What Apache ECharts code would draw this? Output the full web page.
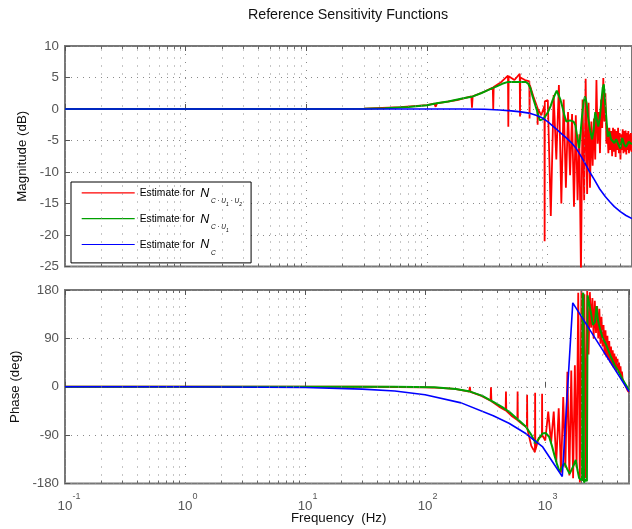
<!DOCTYPE html>
<html><head><meta charset="utf-8">
<script src="https://cdn.jsdelivr.net/npm/echarts@6/dist/echarts.min.js"></script>
<style>html,body{margin:0;padding:0;background:#fff}#c{width:632px;height:529px}</style>
</head><body><div id="c"></div>
<script>
// ---- data ----
const freqRed = [0.1, 1, 10, 30, 60, 100,
  115, 118, 121, 177, 233, 236, 239, 295, 351, 354, 357, 413,
  469, 472, 475, 531, 587, 590, 593, 649, 705, 708, 711, 767,
  823, 826, 829, 885, 941, 944, 947, 1003,
  1062, 1121, 1180, 1239, 1298, 1357, 1416, 1475, 1534, 1593,
  1652, 1711, 1770, 1829, 1888, 1947, 2006, 2065, 2124, 2183,
  2242, 2301, 2360, 2419, 2478, 2537, 2596, 2655, 2714, 2773,
  2832, 2891, 2950, 3009, 3068, 3127, 3186, 3245, 3304, 3363,
  3422, 3481, 3540, 3599, 3658, 3717, 3776, 3835, 3894, 3953,
  4012, 4071, 4130, 4189, 4248, 4307, 4366, 4425, 4484, 4543,
  4602, 4661, 4720, 4779, 4838, 4897, 4956, 5000];
const magRed = [0, 0, 0, 0.05, 0.3, 0.6,
  0.85, 0.35, 0.9, 1.4, 2.0, 0.2, 2.0, 2.7, 3.4, 0.0, 3.5, 4.3,
  5.3, -2.8, 5.2, 4.6, 5.6, -1.2, 5.0, 4.6, 4.4, -1.5, 3.8, 1.8,
  0.2, -2.5, 0.0, -1.0, 0.5, -21.0, 1.2, 1.4,
  -17.0, 2.2, -8.0, 3.8, -15.0, 1.5, -12.5, -0.5, -10.5, -0.8,
  -15.5, -1.0, -14.5, -4.0, -26.0, 1.5, -14.5, 4.8, -13.5, 1.0,
  -12.5, -2.0, -9.0, -1.5, -8.0, 4.6, -5.5, -0.5, -7.0, 1.5,
  -3.0, 4.9, -2.0, 2.5, -5.5, -3.0, -7.0, -3.0, -6.5, -3.5,
  -7.5, -3.0, -6.8, -3.2, -7.6, -3.5, -6.5, -3.0, -7.0, -3.8,
  -8.0, -4.0, -6.5, -3.2, -7.0, -3.5, -6.8, -3.4, -7.2, -3.8,
  -6.5, -3.5, -7.0, -4.0, -6.6, -3.8, -6.8, -5.0];
const phaseRed = [0, 0, 0, 0, -0.5, -1,
  -1.5, 1, -1.5, -4, -9, 0, -9.5, -17, -26, -1, -27, -37,
  -44, -9, -45, -55, -62, -9, -63, -70, -76, -15, -78, -110,
  -122, -11, -118, -95, -92, -13, -90, -100,
  -46, -105, -46, -140, -40, -160, -19, -150, 28, -165,
  30, -170, 40, -150, 175, -178, 178, -175, 172, -170,
  178, 60, 176, 110, 165, 90, 160, 100, 150, 90,
  145, 80, 130, 75, 115, 60, 105, 55, 95, 50,
  85, 45, 75, 40, 68, 36, 62, 32, 56, 28,
  52, 26, 45, 22, 38, 18, 28, 14, 16, 8,
  10, 2, 4, -3, -2, -8, -6, -10];

const freqGreenMag = [0.1, 10, 30, 45, 70, 100, 120, 150, 200, 240,
  280, 320, 370, 420, 470, 530, 600, 660, 690, 720,
  750, 790, 820, 860, 880, 920, 960, 1000, 1060, 1100,
  1150, 1190, 1230, 1280, 1330, 1380, 1430, 1480, 1530, 1580,
  1640, 1700, 1760, 1820, 1870, 1930, 1990, 2040, 2100, 2170,
  2250, 2330, 2400, 2480, 2550, 2630, 2700, 2780, 2860, 2920,
  2980, 3080, 3150, 3250, 3350, 3450, 3570, 3700, 3850, 4000,
  4150, 4300, 4460, 4700, 5000];
const magGreen = [0, 0, 0.05, 0.1, 0.3, 0.6, 0.9, 1.2, 1.7, 2.0,
  2.5, 3.0, 3.5, 4.0, 4.3, 4.3, 4.3, 4.3, 4.0, 3.3,
  2.0, 0.6, -0.4, -1.8, -2.0, -1.6, -1.1, -0.6, 0.5, 1.4,
  2.3, 2.9, 2.6, 1.4, 0.2, -1.1, -2.0, -2.2, -1.8, -1.6,
  -2.0, -2.6, -4.5, -6.2, -4.0, -1.0, 1.2, 2.0, 1.0, -1.5,
  -3.4, -4.8, -3.5, -0.5, -0.6, -2.8, -1.5, 1.0, 3.4, 3.9,
  1.5, -2.0, -4.4, -3.6, -4.8, -4.6, -5.4, -4.8, -5.6, -6.3,
  -4.6, -5.6, -6.0, -5.2, -5.6];
const freqGreenPh = [0.1, 10, 30, 56, 119, 180, 238, 300, 370, 440,
  505, 600, 690, 760, 835, 880, 950, 1010, 1080, 1140,
  1205, 1260, 1320, 1380, 1450, 1520, 1600, 1660, 1740, 1800,
  1860, 1920, 1980, 2030, 2050, 2080, 2110, 2180, 2230, 2260,
  2300, 2400, 2500, 2600, 2680, 2750, 2850, 3000, 3200, 3500,
  3800, 4100, 4460, 5000];
const phaseGreen = [0, 0, 0, 0, -1, -4, -9, -17, -28, -38,
  -47, -62, -74, -88, -105, -98, -87, -86, -93, -110,
  -130, -145, -158, -150, -142, -152, -162, -161, -145, -136,
  -155, -170, -172, -175, 170, 175, -178, -172, -176, 170,
  172, 140, 115, 120, 150, 125, 110, 92, 80, 58,
  40, 28, 12, -6];

const freqBlueMag = [0.1, 100, 200, 300, 400, 500, 600, 700, 800, 900,
  1000, 1150, 1300, 1450, 1600, 1700, 1850, 2000, 2200, 2450,
  2700, 3000, 3300, 3570, 4000, 4460, 5000];
const magBlue = [0, 0, 0, -0.05, -0.15, -0.3, -0.45, -0.65, -1.0, -1.4,
  -2.0, -3.0, -3.9, -4.7, -5.5, -6.1, -7.2, -8.3, -9.8, -11.3,
  -12.7, -13.9, -14.8, -15.5, -16.3, -16.9, -17.4];
const freqBluePh = [0.1, 1, 10, 30, 56, 100, 200, 370, 500, 690, 955, 1390, 1700, 5000];
const phaseBlue = [0, -0.1, -1.5, -4.5, -8, -15, -30, -54, -68, -87, -112, -167, 156, -9];

const minorTicks = [0.2,0.3,0.4,0.5,0.6,0.7,0.8,0.9, 2,3,4,5,6,7,8,9,
  20,30,40,50,60,70,80,90, 200,300,400,500,600,700,800,900, 2000,3000,4000];
const magTicks = {min: -25, max: 10, step: 5};
const phaseTicks = {min: -180, max: 180, step: 90};

const nameRed = 'Estimate for N C·U1·U2';
const nameGreen = 'Estimate for N C·U1';
const nameBlue = 'Estimate for N C';
const legendRich = {};
legendRich[nameRed] = '{t|Estimate for  }{n|N}{s|C · U}{ss|1}{s| · U}{ss|2}';
legendRich[nameGreen] = '{t|Estimate for  }{n|N}{s|C · U}{ss|1}';
legendRich[nameBlue] = '{t|Estimate for  }{n|N}{s|C}';

// ---- chart ----
const FONT = "'Liberation Sans', Arial, Helvetica, sans-serif";
const GRID_C = '#8a8a8a';
const TOP_H = 220.5, BOT_H = 193.5;
function pairs(f, v) { return f.map((x, i) => [x, v[i]]); }
const chart = echarts.init(document.getElementById('c'), null, {renderer: 'canvas'});

function xAx(grid, pos, labels) {
  return {
    type: 'log', logBase: 10, min: 0.1, max: 5000, gridIndex: grid, position: pos,
    axisLine: {show: false},
    axisTick: {show: true, inside: true, length: 5, lineStyle: {color: '#555', width: 1}},
    splitLine: {show: pos === 'bottom', lineStyle: {color: GRID_C, width: 1, type: [1, 7]}},
    axisLabel: labels ? {
      show: true, margin: 8.5, showMinLabel: true,
      formatter: function (v) {
        const e = Math.log10(v), r = Math.round(e);
        if (Math.abs(e - r) > 1e-6) return '';
        const s = String(r);
        return '{h|' + s + '}{b|10}{e|' + s + '}';
      },
      rich: {
        h: {fontSize: 9, lineHeight: 9, verticalAlign: 'top', color: 'rgba(0,0,0,0)', fontFamily: FONT},
        b: {fontSize: 13.3, lineHeight: 14, padding: [8, 0, 0, 0], verticalAlign: 'top', color: '#555', fontFamily: FONT},
        e: {fontSize: 9, lineHeight: 9, verticalAlign: 'top', color: '#555', fontFamily: FONT}
      }
    } : {show: false}
  };
}
function yAx(grid, t, name, gap) {
  return {
    type: 'value', gridIndex: grid, min: t.min, max: t.max, interval: t.step,
    axisLine: {show: false},
    axisTick: {show: true, inside: true, length: 5, lineStyle: {color: '#555'}},
    axisLabel: {fontSize: 13.3, color: '#555', margin: 6, fontFamily: FONT},
    splitLine: {show: true, lineStyle: {color: GRID_C, width: 1, type: [1, 5]}},
    name: name, nameLocation: 'middle', nameGap: gap,
    nameTextStyle: {fontSize: 13.3, color: '#111', fontFamily: FONT}
  };
}
function lineSeries(name, xi, data, color, width, z) {
  return {type: 'line', name: name, xAxisIndex: xi, yAxisIndex: xi, data: data,
    symbol: 'none', showSymbol: false, clip: true, z: z,
    lineStyle: {color: color, width: width}, itemStyle: {color: color}};
}
// dotted minor grid lines + short minor ticks on the bottom and top borders
function gridSeries(xi, t, h) {
  const tickLen = 3 * (t.max - t.min) / h;
  const ticks = [];
  minorTicks.forEach(v => {
    ticks.push([{coord: [v, t.min]}, {coord: [v, t.min + tickLen]}]);
    ticks.push([{coord: [v, t.max]}, {coord: [v, t.max - tickLen]}]);
  });
  return [{type: 'line', name: 'grid' + xi, xAxisIndex: xi, yAxisIndex: xi, data: [[1, 0]],
    symbol: 'none', lineStyle: {opacity: 0}, silent: true, z: 1,
    markLine: {silent: true, symbol: ['none', 'none'], label: {show: false}, animation: false,
      lineStyle: {color: GRID_C, width: 1, type: [1, 7]},
      data: minorTicks.map(v => ({xAxis: v}))}},
   {type: 'line', name: 'ticks' + xi, xAxisIndex: xi, yAxisIndex: xi, data: [[1, 0]],
    symbol: 'none', lineStyle: {opacity: 0}, silent: true, z: 5,
    markLine: {silent: true, symbol: ['none', 'none'], label: {show: false}, animation: false,
      lineStyle: {color: '#666', width: 1, type: 'solid'}, data: ticks}}];
}

const option = {
  animation: false,
  backgroundColor: '#fff',
  textStyle: {fontFamily: FONT},
  title: {text: 'Reference Sensitivity Functions', left: 343, top: 3, textAlign: 'center',
    textStyle: {fontSize: 14.3, fontWeight: 'normal', color: '#111', fontFamily: FONT}},
  grid: [
    {left: 65, right: -6, top: 46, height: TOP_H, show: true, borderColor: '#777', borderWidth: 2, backgroundColor: '#fff'},
    {left: 65, right: -6, top: 290, height: BOT_H, show: true, borderColor: '#777', borderWidth: 2, backgroundColor: '#fff'}
  ],
  xAxis: [xAx(0, 'bottom', false), xAx(1, 'bottom', true), xAx(0, 'top', false), xAx(1, 'top', false)],
  yAxis: [yAx(0, magTicks, 'Magnitude (dB)', 36), yAx(1, phaseTicks, 'Phase (deg)', 38)],
  legend: {
    data: [nameRed, nameGreen, nameBlue],
    orient: 'vertical', left: 71, top: 182,
    padding: [4.4, 9, 2.4, 10.7], itemGap: 3.3, itemWidth: 53, itemHeight: 1.2,
    icon: 'rect',
    borderColor: '#000', borderWidth: 1, backgroundColor: '#fff', borderRadius: 0,
    selectedMode: false,
    formatter: function (n) { return legendRich[n]; },
    textStyle: {
      color: '#000', fontFamily: FONT,
      rich: {
        t: {fontSize: 10.3, lineHeight: 12, padding: [2, 0, 8, 0], verticalAlign: 'top', color: '#000', fontFamily: FONT},
        n: {fontSize: 12.5, lineHeight: 13, fontStyle: 'italic', padding: [0.5, 1.5, 8.5, 0], verticalAlign: 'top', color: '#000', fontFamily: FONT},
        s: {fontSize: 6.5, lineHeight: 6.5, fontStyle: 'italic', padding: [11.5, 0, 4, 0], verticalAlign: 'top', color: '#000', fontFamily: FONT},
        ss: {fontSize: 5, lineHeight: 5, fontStyle: 'italic', padding: [15.5, 0, 1.5, 0], verticalAlign: 'top', color: '#000', fontFamily: FONT}
      }
    }
  },
  graphic: [{type: 'text', left: 342 - 51, top: 512,
    style: {text: 'Frequency  (Hz)', fontSize: 13.3, fill: '#111', fontFamily: FONT}}],
  series: [].concat(
    gridSeries(0, magTicks, TOP_H), gridSeries(1, phaseTicks, BOT_H),
    [
      lineSeries(nameRed, 0, pairs(freqRed, magRed), '#ff0000', 1.8, 2),
      lineSeries(nameGreen, 0, pairs(freqGreenMag, magGreen), '#00a000', 2, 3),
      lineSeries(nameBlue, 0, pairs(freqBlueMag, magBlue), '#0000ff', 1.6, 4),
      lineSeries(nameRed, 1, pairs(freqRed, phaseRed), '#ff0000', 1.8, 2),
      lineSeries(nameGreen, 1, pairs(freqGreenPh, phaseGreen), '#00a000', 2, 3),
      lineSeries(nameBlue, 1, pairs(freqBluePh, phaseBlue), '#0000ff', 1.6, 4)
    ])
};
chart.setOption(option);
</script></body></html>
